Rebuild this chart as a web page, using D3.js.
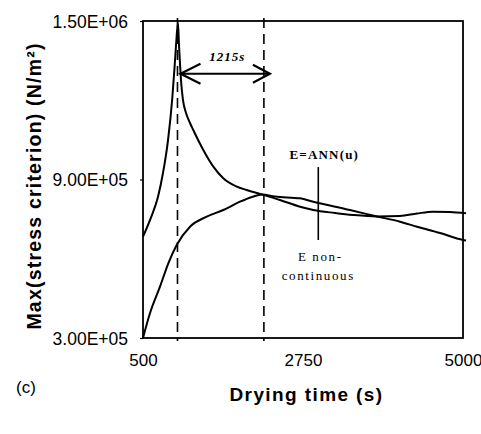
<!DOCTYPE html>
<html><head><meta charset="utf-8">
<script src="https://cdn.jsdelivr.net/npm/d3@7"></script>
<style>body{margin:0;background:#fff}svg{display:block}</style>
</head><body>
<svg id="c" width="481" height="434"></svg>
<script>
// Curve with sharp peak
const timeA = [500,617,711,781,852,912,946,968,992,1006,1020,1034,1062,1105,1161,1207,1348,1489,1629,1818,1958,2173,2426,2708,2895,3200,3453,3791,4114,4353,4578,4817,5042];
const stressA = [683500,759200,834900,924600,1049500,1208500,1333500,1421600,1492000,1409000,1340000,1276700,1201000,1151700,1113900,1087400,1011700,948500,904500,872800,860300,843200,822400,797000,784500,773200,765600,760000,761800,771300,778100,777000,772000];
// Rising curve
const timeB = [500,598,739,856,974,1161,1396,1629,1864,2033,2173,2356,2708,2895,3411,3791,4114,4353,4677,5000,5042];
const stressB = [300000,393500,494200,582800,652000,721300,759200,784500,816000,833800,843200,835400,828600,816000,784500,760000,740300,721300,697500,671000,669000];

const xTicks = [500,2750,5000];
const yTicks = [300000,900000,1500000];
const yTickLabels = ["3.00E+05","9.00E+05","1.50E+06"];
const markers = [985,2200];
const gapLabel = "1215s";
const arrowStress = 1300000;
const pointerTime = 2965;
const pointerRange = [947000,671000];

const svg = d3.select("#c");
const x = d3.scaleLinear().domain([500,5000]).range([143,463]);
const y = d3.scaleLinear().domain([300000,1500000]).range([338,21]);

const sans = "'Liberation Sans', Arial, sans-serif";
const serif = "'Liberation Serif', 'Times New Roman', serif";

// frame
svg.append("rect").attr("x",x(500)).attr("y",y(1500000))
  .attr("width",x(5000)-x(500)).attr("height",y(300000)-y(1500000))
  .attr("fill","none").attr("stroke","#000").attr("stroke-width",1.8);

// axes tick labels
const yAxis = d3.axisLeft(y).tickValues(yTicks).tickSize(3).tickFormat((d,i)=>yTickLabels[i]);
const gy = svg.append("g").attr("transform",`translate(${x(500)},0)`).call(yAxis);
gy.select(".domain").remove();
gy.selectAll("text").attr("font-family",sans).attr("font-size",17.5).attr("fill","#000").attr("x",-15).attr("dy","0.35em");
gy.selectAll("line").attr("stroke","#000").attr("stroke-width",1.2);

const xAxis = d3.axisBottom(x).tickValues(xTicks).tickSize(0).tickFormat(d3.format("d"));
const gx = svg.append("g").attr("transform",`translate(0,${y(300000)})`).call(xAxis);
gx.select(".domain").remove();
gx.selectAll("text").attr("font-family",sans).attr("font-size",17).attr("fill","#000").attr("y",16).attr("dy","0.71em");

// dashed marker lines
svg.selectAll(".mk").data(markers).enter().append("line")
  .attr("x1",d=>x(d)).attr("x2",d=>x(d)).attr("y1",y(1500000)-3).attr("y2",y(300000)+3)
  .attr("stroke","#000").attr("stroke-width",1.6).attr("stroke-dasharray","10,6");

// curves
const line = d3.line().x(d=>x(d[0])).y(d=>y(d[1])).curve(d3.curveMonotoneX);
svg.append("path").datum(timeA.map((t,i)=>[t,stressA[i]])).attr("d",line)
  .attr("fill","none").attr("stroke","#000").attr("stroke-width",2);
svg.append("path").datum(timeB.map((t,i)=>[t,stressB[i]])).attr("d",line)
  .attr("fill","none").attr("stroke","#000").attr("stroke-width",2);

// double arrow
const ax1 = x(markers[0])+3, ax2 = x(markers[1])+6, ay = y(arrowStress);
svg.append("line").attr("x1",ax1).attr("x2",ax2).attr("y1",ay).attr("y2",ay).attr("stroke","#000").attr("stroke-width",2);
svg.append("path").attr("d",`M${ax1+20},${ay-10}L${ax1},${ay}L${ax1+20},${ay+10}`).attr("fill","none").attr("stroke","#000").attr("stroke-width",2.2);
svg.append("path").attr("d",`M${ax2-17},${ay-9}L${ax2},${ay}L${ax2-17},${ay+9}`).attr("fill","none").attr("stroke","#000").attr("stroke-width",2.2);
svg.append("text").attr("x",(ax1+ax2)/2+2).attr("y",ay-13).attr("text-anchor","middle")
  .attr("font-family",serif).attr("font-style","italic").attr("font-weight","bold").attr("font-size",13)
  .attr("letter-spacing",1).text(gapLabel);

// pointer line + labels
svg.append("line").attr("x1",x(pointerTime)).attr("x2",x(pointerTime))
  .attr("y1",y(pointerRange[0])).attr("y2",y(pointerRange[1])).attr("stroke","#000").attr("stroke-width",1.6);
svg.append("text").attr("x",x(pointerTime)+6).attr("y",y(pointerRange[0])-8).attr("text-anchor","middle")
  .attr("font-family",serif).attr("font-weight","bold").attr("font-size",13).attr("letter-spacing",1.2).text("E=ANN(u)");
svg.append("text").attr("x",x(pointerTime)+2).attr("y",y(pointerRange[1])+21).attr("text-anchor","middle")
  .attr("font-family",serif).attr("font-size",13).attr("letter-spacing",1.6).text("E non-");
svg.append("text").attr("x",x(pointerTime)).attr("y",y(pointerRange[1])+40).attr("text-anchor","middle")
  .attr("font-family",serif).attr("font-size",13).attr("letter-spacing",1.6).text("continuous");

// titles
svg.append("text").attr("transform","translate(41,186) rotate(-90)").attr("text-anchor","middle")
  .attr("font-family",sans).attr("font-weight","bold").attr("font-size",19.5).attr("letter-spacing",1.2).text("Max(stress criterion) (N/m²)");
svg.append("text").attr("x",306.5).attr("y",401).attr("text-anchor","middle")
  .attr("font-family",sans).attr("font-weight","bold").attr("font-size",19).attr("letter-spacing",1.4).text("Drying time (s)");
svg.append("text").attr("x",16).attr("y",393)
  .attr("font-family",sans).attr("font-size",17).text("(c)");
</script>
</body></html>
